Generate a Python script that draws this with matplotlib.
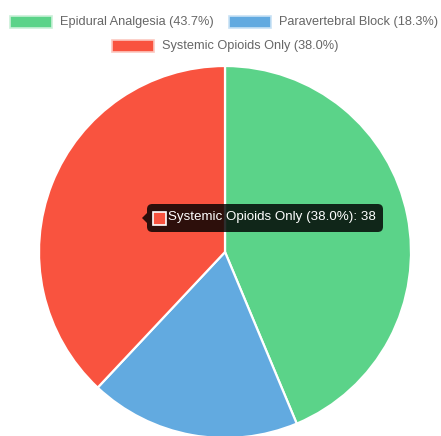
import matplotlib.pyplot as plt
from matplotlib.patches import Rectangle, FancyBboxPatch, Polygon

plt.rcParams['font.family'] = ['Liberation Sans', 'DejaVu Sans']

labels = ['Epidural Analgesia', 'Paravertebral Block', 'Systemic Opioids Only']
values = [43.7, 18.3, 38.0]
colors = ['#5bd389', '#62aae0', '#f9533f']
borders = ['#c9f0d8', '#c8e2f5', '#fcc8c0']

W, H = 441, 436
fig = plt.figure(figsize=(W / 100, H / 100), dpi=100)

def fx(px):
    return px / W

def fy(py):
    return 1 - py / H

# pie axes: centre (225, 252) px, radius 186 px
cx, cy, r = 225, 252, 186
ax = fig.add_axes([fx(cx - r), fy(cy + r), 2 * r / W, 2 * r / H])
wedges, _ = ax.pie(values, colors=colors, startangle=90, counterclock=False,
                   wedgeprops=dict(edgecolor='white', linewidth=1.6))
for w in wedges:
    w.set_clip_on(False)
ax.set_aspect('auto')
ax.set_xlim(-1, 1)
ax.set_ylim(-1, 1)
ax.axis('off')

total = sum(values)
pct = [v / total * 100 for v in values]
legend_text = ['%s (%.1f%%)' % (l, p) for l, p in zip(labels, pct)]

# legend rows laid out like the chart.js legend
rows = [[(10, 0), (229, 1)], [(112, 2)]]
row_y = [22, 46]
for row, y in zip(rows, row_y):
    for x0, i in row:
        fig.patches.append(Rectangle((fx(x0), fy(y + 6)), 42 / W, 12 / H,
                                     transform=fig.transFigure,
                                     facecolor=colors[i], edgecolor=borders[i],
                                     linewidth=1.2))
        fig.text(fx(x0 + 50), fy(y), legend_text[i], fontsize=9.2,
                 color='#666666', va='center', ha='left')

# tooltip over the red slice
i = 2
tx0, ty0, tx1, ty1 = 147, 204, 383, 232
tip = FancyBboxPatch((fx(tx0), fy(ty1)), (tx1 - tx0) / W, (ty1 - ty0) / H,
                     boxstyle='round,pad=0,rounding_size=0.012',
                     transform=fig.transFigure, facecolor=(0, 0, 0, 0.82),
                     edgecolor='none')
fig.patches.append(tip)
fig.patches.append(Polygon([(fx(tx0), fy(213)), (fx(tx0 - 5), fy(218)), (fx(tx0), fy(223))],
                           closed=True, transform=fig.transFigure,
                           facecolor=(0, 0, 0, 0.82), edgecolor='none'))
fig.patches.append(Rectangle((fx(153), fy(225)), 13 / W, 13 / H,
                             transform=fig.transFigure, facecolor=colors[i],
                             edgecolor='white', linewidth=1.2))
fig.text(fx(168), fy(217), '%s: %g' % (legend_text[i], values[i]),
         fontsize=9.6, color='white', va='center', ha='left')

fig.savefig('out.png', dpi=100)
